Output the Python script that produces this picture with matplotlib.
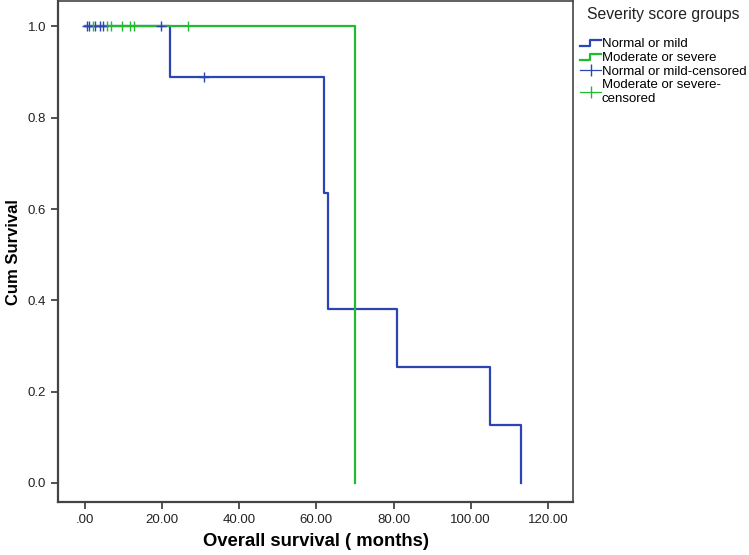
import numpy as np
import matplotlib
matplotlib.use("Agg")
from matplotlib import pyplot as plt
from matplotlib.lines import Line2D
from matplotlib.legend_handler import HandlerBase

plt.rcParams['font.family'] = ['Liberation Sans', 'DejaVu Sans']

# Kaplan-Meier steps (months, cumulative survival)
mild_t = [0, 22, 62, 63, 81, 105, 113]
mild_s = [1.0, 0.889, 0.635, 0.381, 0.254, 0.127, 0.0]
severe_t = [0, 70]
severe_s = [1.0, 0.0]

# censored observations
mild_cens_t = [0.5, 1.0, 2.6, 3.9, 4.7, 19.8, 30.8]
mild_cens_s = [1.0, 1.0, 1.0, 1.0, 1.0, 1.0, 0.889]
severe_cens_t = [2.1, 5.6, 6.7, 9.7, 11.7, 12.7, 26.8]
severe_cens_s = [1.0] * 7

xticks = [0, 20, 40, 60, 80, 100, 120]
xlabels = ['.00', '20.00', '40.00', '60.00', '80.00', '100.00', '120.00']
yticks = [0.0, 0.2, 0.4, 0.6, 0.8, 1.0]

BLUE = '#2b46b3'
GREEN = '#22bb2e'


class StepHandler(HandlerBase):
    # little step symbol like the SPSS legend
    def create_artists(self, legend, orig, xd, yd, w, h, fontsize, trans):
        x = [xd, xd + w * 0.45, xd + w * 0.45, xd + w]
        y = [yd + h * 0.1, yd + h * 0.1, yd + h * 0.8, yd + h * 0.8]
        ln = Line2D(x, y, color=orig.get_color(), lw=orig.get_linewidth(), transform=trans)
        return [ln]


fig = plt.figure(figsize=(7.49, 5.55), dpi=100)
ax = fig.add_axes([0.0774, 0.0955, 0.688, 0.902])

l1, = ax.step(mild_t, mild_s, where='post', color=BLUE, lw=1.6)
l2, = ax.step(severe_t, severe_s, where='post', color=GREEN, lw=1.6)
ax.plot(mild_cens_t, mild_cens_s, ls='none', marker='+', ms=7, mew=1.0, color=BLUE)
ax.plot(severe_cens_t, severe_cens_s, ls='none', marker='|', ms=7, mew=1.0, color=GREEN)

ax.set_xlim(-7, 126.6)
ax.set_ylim(-0.042, 1.055)
ax.set_xticks(xticks)
ax.set_xticklabels(xlabels)
ax.set_yticks(yticks)
ax.set_yticklabels(['%.1f' % v for v in yticks])
ax.tick_params(direction='out', length=5, width=1.2, color='#333333', labelsize=9.5,
               labelcolor='#222222')

for s in ax.spines.values():
    s.set_color('#444444')
    s.set_linewidth(1.2)
ax.spines['left'].set_linewidth(1.6)
ax.spines['bottom'].set_linewidth(1.6)

ax.set_xlabel('Overall survival ( months)', fontsize=13.3, fontweight='bold', labelpad=5)
ax.set_ylabel('Cum Survival', fontsize=12, fontweight='bold', labelpad=5)

# legend title placed on its own (SPSS leaves a gap under it)
fig.text(0.784, 1 - 15 / 555, 'Severity score groups', fontsize=11.3, va='center',
         ha='left', color='#222222')

# legend proxies for the censored symbols: thin line with a tick
p3 = Line2D([], [], color=BLUE, lw=0.9, marker='|', ms=8, mew=1.0)
p4 = Line2D([], [], color=GREEN, lw=0.9, marker='|', ms=8, mew=1.0)

leg = fig.legend([l1, l2, p3, p4],
                 ['Normal or mild', 'Moderate or severe', 'Normal or mild-censored',
                  'Moderate or severe-\ncensored'],
                 handler_map={l1: StepHandler(), l2: StepHandler()},
                 loc='upper left', bbox_to_anchor=(0.775, 1 - 38 / 555), frameon=False,
                 fontsize=9.5, handlelength=1.55, handletextpad=0.05, labelspacing=0.12,
                 borderaxespad=0, borderpad=0, numpoints=1)

fig.savefig('out.png', dpi=100)
